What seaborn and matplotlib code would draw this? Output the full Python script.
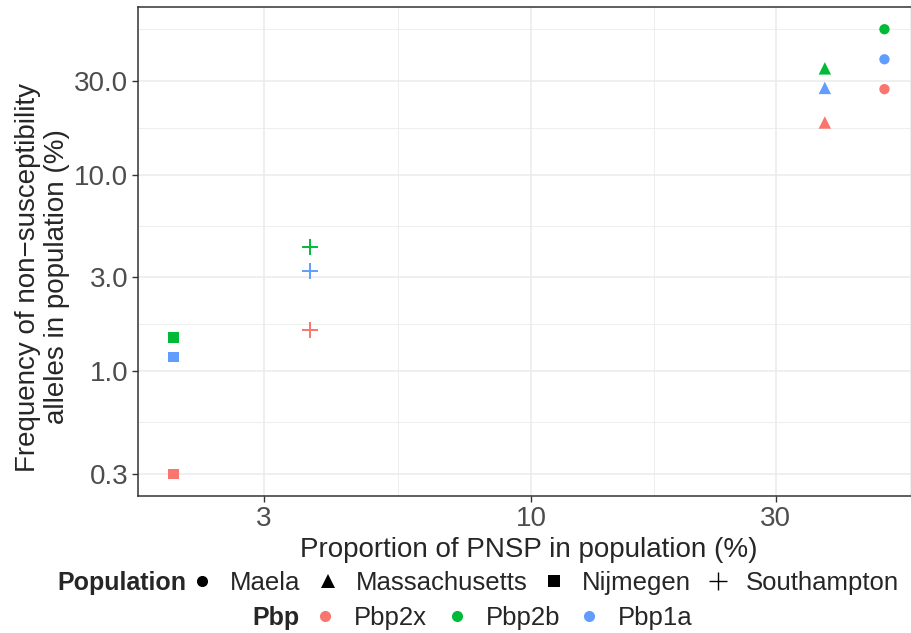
import numpy as np
import pandas as pd
import matplotlib
matplotlib.use('Agg')
import matplotlib.pyplot as plt
from matplotlib.lines import Line2D
from matplotlib.ticker import FixedLocator, FixedFormatter
import seaborn as sns

# values
populations = ['Maela', 'Massachusetts', 'Nijmegen', 'Southampton']
pnsp = [48.9, 37.4, 2.0, 3.7]
pbps = ['Pbp2x', 'Pbp2b', 'Pbp1a']
freq_pbp2x = [27.2, 18.4, 0.3, 1.62]
freq_pbp2b = [54.9, 34.7, 1.48, 4.26]
freq_pbp1a = [38.6, 27.6, 1.18, 3.24]

x_breaks = [3, 10, 30]
x_labels = ['3', '10', '30']
y_breaks = [0.3, 1, 3, 10, 30]
y_labels = ['0.3', '1.0', '3.0', '10.0', '30.0']

colours = ['#F8766D', '#00BA38', '#619CFF']
shapes = ['o', '^', 's', '+']
shape_sizes = [55, 80, 55, 135]

rows = []
for pbp, vals in zip(pbps, [freq_pbp2x, freq_pbp2b, freq_pbp1a]):
    for pop, px, v in zip(populations, pnsp, vals):
        rows.append({'Population': pop, 'Pbp': pbp, 'pnsp': px, 'freq': v})
df = pd.DataFrame(rows)

sns.set_style('white')
plt.rcParams['font.family'] = ['Liberation Sans', 'DejaVu Sans']

W, H = 912, 633
fig = plt.figure(figsize=(W / 100, H / 100), dpi=100)
# panel runs a little past the right edge, as in the reference
ax = fig.add_axes([138 / W, (H - 496) / H, (920 - 138) / W, (496 - 7) / H])

palette = dict(zip(pbps, colours))
for pop, m, s in zip(populations, shapes, shape_sizes):
    sub = df[df.Population == pop]
    sns.scatterplot(data=sub, x='pnsp', y='freq', hue='Pbp', palette=palette,
                    marker=m, s=s, linewidth=1.4 if m == '+' else 0,
                    legend=False, ax=ax, zorder=3)

ax.set_xscale('log')
ax.set_yscale('log')

def expand(vals):
    lo, hi = np.log10(min(vals)), np.log10(max(vals))
    pad = (hi - lo) * 0.05
    return 10 ** (lo - pad), 10 ** (hi + pad)

ax.set_xlim(*expand(df.pnsp))
ax.set_ylim(*expand(df.freq))

ax.xaxis.set_major_locator(FixedLocator(x_breaks))
ax.xaxis.set_major_formatter(FixedFormatter(x_labels))
ax.yaxis.set_major_locator(FixedLocator(y_breaks))
ax.yaxis.set_major_formatter(FixedFormatter(y_labels))
ax.xaxis.set_minor_locator(FixedLocator([np.sqrt(30), np.sqrt(300), np.sqrt(3000)]))
ax.yaxis.set_minor_locator(FixedLocator([np.sqrt(0.3), np.sqrt(3), np.sqrt(30), np.sqrt(300), np.sqrt(3000)]))
ax.xaxis.set_minor_formatter(FixedFormatter([]))
ax.yaxis.set_minor_formatter(FixedFormatter([]))

ax.grid(which='major', color='#EBEBEB', linewidth=1.1)
ax.grid(which='minor', color='#EBEBEB', linewidth=0.6)
ax.set_axisbelow(True)
ax.tick_params(which='major', length=4, width=1.0, color='#333333',
               labelsize=20, labelcolor='#4D4D4D', pad=3, direction='out',
               bottom=True, left=True)
ax.tick_params(which='minor', length=0)
for sp in ax.spines.values():
    sp.set_color('#333333')
    sp.set_linewidth(1.1)

ax.set_xlabel('Proportion of PNSP in population (%)', fontsize=20, labelpad=4)
ax.set_ylabel('Frequency of non\u2212susceptibility\nalleles in population (%)',
              fontsize=20, linespacing=1.15, multialignment='center')
ax.yaxis.set_label_coords((70 - 138) / 782, (496 - 277) / 489)

# legends at the bottom, ggplot style (title on the left of each row)
fs = 18.5
shape_handles = []
for m in shapes:
    if m == '+':
        shape_handles.append(Line2D([], [], marker='+', color='black', linestyle='none',
                                    markersize=12.5, markeredgewidth=1.0))
    else:
        shape_handles.append(Line2D([], [], marker=m, color='black', linestyle='none',
                                    markersize=10 if m == '^' else 8,
                                    markeredgewidth=0))
colour_handles = [Line2D([], [], marker='o', color=c, linestyle='none',
                         markersize=8, markeredgewidth=0) for c in colours]

fig.text(57 / W, 1 - 583 / H, 'Population', fontsize=18, fontweight='bold',
         ha='left', va='center')
fig.legend(shape_handles, populations, loc='center left',
           bbox_to_anchor=(192 / W, 1 - 583 / H), ncol=4, frameon=False,
           fontsize=fs, handlelength=0.8, handletextpad=0.68,
           columnspacing=0.66, borderpad=0, borderaxespad=0)
fig.text(252 / W, 1 - 618 / H, 'Pbp', fontsize=18, fontweight='bold',
         ha='left', va='center')
fig.legend(colour_handles, pbps, loc='center left',
           bbox_to_anchor=(315 / W, 1 - 618 / H), ncol=3, frameon=False,
           fontsize=fs, handlelength=0.8, handletextpad=0.72,
           columnspacing=0.75, borderpad=0, borderaxespad=0)

fig.savefig('out.png', dpi=100)
